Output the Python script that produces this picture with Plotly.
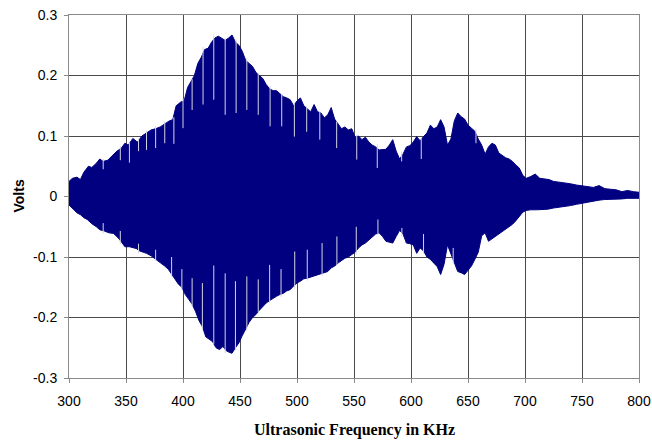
import numpy as np
import plotly.graph_objects as go

# Upper envelope (positive peaks)
upper_freq = [300, 303, 307, 310, 313, 317, 320, 324, 327, 330, 334, 338, 342, 346, 349, 352, 356, 360,
              364, 368, 372, 376, 380, 384, 388, 391, 394, 398, 401, 404, 407, 410, 413, 416, 419, 422,
              425, 428, 431, 434, 437, 440, 443, 446, 449, 452, 455, 458, 461, 464, 467, 470, 473, 476,
              479, 482, 485, 488, 491, 494, 497, 500, 503, 506, 509, 512, 515, 518, 521, 524, 527, 530,
              533, 536, 539, 542, 545, 548, 551, 554, 557, 560, 563, 566, 569, 572, 575, 578, 581, 584,
              587, 590, 593, 596, 599, 602, 605, 608, 611, 614, 617, 620, 623, 626, 629, 632, 635, 638,
              641, 644, 647, 650, 653, 656, 659, 662, 665, 668, 671, 674, 677, 680, 683, 686, 689, 692,
              695, 698, 701, 705, 709, 713, 717, 721, 725, 730, 735, 740, 745, 750, 755, 760, 765, 770,
              775, 780, 785, 790, 795, 800]
upper_volts = [0.025, 0.030, 0.032, 0.028, 0.040, 0.050, 0.048, 0.055, 0.062, 0.058, 0.060, 0.068, 0.075,
               0.080, 0.088, 0.085, 0.096, 0.090, 0.100, 0.105, 0.110, 0.112, 0.115, 0.120, 0.125, 0.127,
               0.150, 0.156, 0.158, 0.180, 0.190, 0.200, 0.220, 0.230, 0.243, 0.245, 0.255, 0.262, 0.265,
               0.262, 0.258, 0.262, 0.267, 0.255, 0.250, 0.240, 0.225, 0.220, 0.215, 0.205, 0.200, 0.195,
               0.185, 0.178, 0.175, 0.175, 0.170, 0.165, 0.163, 0.160, 0.150, 0.158, 0.163, 0.150, 0.145,
               0.140, 0.152, 0.140, 0.138, 0.130, 0.135, 0.147, 0.128, 0.120, 0.112, 0.115, 0.110, 0.112,
               0.098, 0.100, 0.094, 0.098, 0.090, 0.085, 0.082, 0.077, 0.078, 0.078, 0.085, 0.094, 0.075,
               0.062, 0.070, 0.082, 0.084, 0.090, 0.099, 0.092, 0.099, 0.105, 0.118, 0.112, 0.115, 0.127,
               0.115, 0.085, 0.095, 0.125, 0.138, 0.132, 0.128, 0.118, 0.113, 0.108, 0.095, 0.085, 0.070,
               0.082, 0.088, 0.085, 0.072, 0.068, 0.064, 0.062, 0.058, 0.052, 0.047, 0.035, 0.030, 0.033,
               0.037, 0.030, 0.029, 0.028, 0.025, 0.024, 0.022, 0.021, 0.019, 0.018, 0.016, 0.015, 0.018,
               0.013, 0.012, 0.011, 0.008, 0.010, 0.008, 0.007]

# Lower envelope (negative peaks)
lower_freq = [300, 303, 307, 310, 313, 316, 320, 324, 327, 331, 335, 339, 343, 346, 349, 353, 356, 359,
              362, 365, 368, 372, 375, 378, 381, 384, 387, 390, 393, 396, 399, 402, 405, 408, 411, 414,
              417, 420, 423, 426, 429, 432, 435, 438, 441, 443, 446, 449, 452, 455, 458, 461, 464, 467,
              470, 473, 476, 479, 482, 485, 488, 491, 494, 497, 500, 503, 506, 509, 512, 515, 518, 521,
              524, 527, 530, 533, 536, 539, 542, 545, 548, 551, 554, 557, 560, 563, 566, 569, 572, 575,
              578, 581, 584, 587, 590, 593, 596, 599, 602, 605, 608, 611, 614, 617, 620, 623, 626, 629,
              632, 635, 638, 641, 644, 647, 650, 653, 656, 659, 662, 665, 668, 671, 674, 677, 680, 683,
              686, 689, 692, 695, 698, 701, 705, 710, 715, 720, 725, 730, 735, 740, 745, 750, 755, 760,
              765, 770, 775, 780, 785, 790, 795, 800]
lower_volts = [-0.014, -0.020, -0.027, -0.030, -0.035, -0.038, -0.045, -0.050, -0.055, -0.057, -0.060,
               -0.061, -0.068, -0.075, -0.083, -0.083, -0.085, -0.086, -0.090, -0.092, -0.094, -0.098,
               -0.102, -0.106, -0.110, -0.115, -0.120, -0.128, -0.137, -0.145, -0.150, -0.162, -0.170,
               -0.178, -0.190, -0.205, -0.215, -0.232, -0.236, -0.240, -0.250, -0.253, -0.248, -0.255,
               -0.258, -0.259, -0.250, -0.242, -0.230, -0.218, -0.208, -0.200, -0.195, -0.188, -0.182,
               -0.176, -0.172, -0.168, -0.165, -0.162, -0.160, -0.156, -0.154, -0.148, -0.143, -0.140,
               -0.136, -0.135, -0.133, -0.132, -0.130, -0.127, -0.125, -0.124, -0.118, -0.115, -0.110,
               -0.106, -0.102, -0.100, -0.096, -0.092, -0.085, -0.080, -0.077, -0.072, -0.068, -0.062,
               -0.060, -0.066, -0.074, -0.076, -0.077, -0.066, -0.056, -0.062, -0.077, -0.078, -0.080,
               -0.094, -0.085, -0.090, -0.100, -0.104, -0.110, -0.116, -0.129, -0.112, -0.080, -0.095,
               -0.107, -0.124, -0.126, -0.129, -0.122, -0.115, -0.104, -0.092, -0.065, -0.060, -0.074,
               -0.070, -0.066, -0.062, -0.058, -0.054, -0.050, -0.046, -0.040, -0.033, -0.026, -0.023,
               -0.022, -0.022, -0.022, -0.021, -0.019, -0.018, -0.017, -0.015, -0.013, -0.011, -0.009,
               -0.008, -0.006, -0.005, -0.005, -0.004, -0.004, -0.003, -0.003, -0.003]

# Narrow dips of the positive peaks (frequency, dip value)
top_dip_freq = [330, 345, 353, 361, 368, 376, 384, 392, 400, 408, 417.6, 427, 437, 446.6, 456, 466, 476.4,
                486.6, 497.7, 508.5, 520, 534.8, 552.4, 570.4, 591.8, 609, 657]
top_dip_volts = [0.045, 0.060, 0.056, 0.075, 0.077, 0.080, 0.088, 0.087, 0.113, 0.143, 0.152, 0.160, 0.135,
                 0.138, 0.143, 0.135, 0.116, 0.116, 0.099, 0.107, 0.094, 0.080, 0.061, 0.047, 0.058,
                 0.062, 0.088]
# Narrow dips of the negative peaks (frequency, dip value)
bot_dip_freq = [330, 345, 361, 376, 390, 399, 408, 417, 427, 437, 446, 456, 466, 476, 486, 498, 509, 522,
                535, 552, 571, 592, 611, 637]
bot_dip_volts = [-0.044, -0.057, -0.078, -0.088, -0.100, -0.120, -0.135, -0.143, -0.114, -0.127, -0.140,
                 -0.132, -0.137, -0.113, -0.120, -0.091, -0.088, -0.077, -0.066, -0.050, -0.038, -0.052,
                 -0.062, -0.085]

x_ticks = [300, 350, 400, 450, 500, 550, 600, 650, 700, 750, 800]
y_ticks = [-0.3, -0.2, -0.1, 0, 0.1, 0.2, 0.3]
y_tick_text = ["-0.3", "-0.2", "-0.1", "0", "0.1", "0.2", "0.3"]
x_title = "Ultrasonic Frequency in KHz"
y_title = "Volts"

NAVY = "#000080"
fig = go.Figure()
fig.add_trace(go.Scatter(x=upper_freq, y=upper_volts, mode="lines",
                         line=dict(color=NAVY, width=1), hoverinfo="skip", showlegend=False))
fig.add_trace(go.Scatter(x=lower_freq, y=lower_volts, mode="lines", fill="tonexty",
                         fillcolor=NAVY, line=dict(color=NAVY, width=1), hoverinfo="skip",
                         showlegend=False))

uf = np.array(upper_freq, dtype=float)
lf = np.array(lower_freq, dtype=float)
dx, dy = [], []
for f, v in zip(top_dip_freq, top_dip_volts):
    i = int(np.argmin(np.abs(uf - f)))
    dx += [f, f, None]
    dy += [v, upper_volts[i] + 0.004, None]
for f, v in zip(bot_dip_freq, bot_dip_volts):
    i = int(np.argmin(np.abs(lf - f)))
    dx += [f, f, None]
    dy += [v, lower_volts[i] - 0.004, None]
fig.add_trace(go.Scatter(x=dx, y=dy, mode="lines", line=dict(color="#d4d4e4", width=1),
                         hoverinfo="skip", showlegend=False, connectgaps=False))

axis_common = dict(showgrid=True, gridcolor="#4a4a4a", gridwidth=1, showline=True,
                   linecolor="#8a8a8a", linewidth=1, mirror=True, ticks="outside", ticklen=4,
                   tickcolor="#8a8a8a", zeroline=False, automargin=False,
                   tickfont=dict(family="Liberation Sans, Arial, sans-serif", size=14, color="black"))

fig.update_layout(
    width=652, height=442,
    margin=dict(l=69, r=13, t=15, b=64),
    paper_bgcolor="white", plot_bgcolor="white",
    font=dict(family="Liberation Sans, Arial, sans-serif", size=14, color="black"),
    xaxis=dict(range=[300, 800], tickvals=x_ticks, ticklabelstandoff=6, **axis_common),
    yaxis=dict(range=[-0.3, 0.3], tickvals=y_ticks, ticktext=y_tick_text, ticklabelstandoff=4,
               **axis_common),
    annotations=[
        dict(text="<b>" + x_title + "</b>", xref="paper", yref="paper", x=0.5, y=0,
             yshift=-52, xanchor="center", yanchor="middle", showarrow=False,
             font=dict(family="Liberation Serif, Times New Roman, serif", size=16, color="black")),
        dict(text="<b>" + y_title + "</b>", xref="paper", yref="paper", x=0, y=0.5,
             xshift=-51, xanchor="center", yanchor="middle", textangle=-90, showarrow=False,
             font=dict(family="Liberation Sans, Arial, sans-serif", size=14, color="black")),
    ],
)
fig.write_html("out.html")
